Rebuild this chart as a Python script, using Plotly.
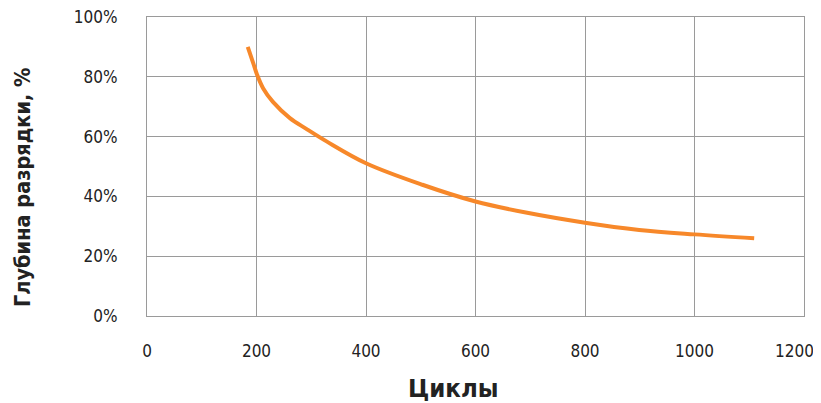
import plotly.graph_objects as go

cycles = [184, 194, 201, 212, 230, 261, 291, 328, 400, 503, 600, 692, 800, 899, 1000, 1109]
depth = [90.0, 84.6, 80.7, 76.2, 71.6, 66.2, 62.6, 58.4, 51.1, 43.9, 38.3, 34.6, 31.2, 28.8, 27.3, 26.0]

x_ticks = [0, 200, 400, 600, 800, 1000, 1200]
x_labels = ["0", "200", "400", "600", "800", "1000", ""]
last_x_label = "1200"
y_ticks = [0, 20, 40, 60, 80, 100]
y_labels = [f"{v}%" for v in y_ticks]

tick_font = dict(family="DejaVu Sans Condensed, Liberation Sans, sans-serif", size=17, color="#222")
title_family = "DejaVu Sans Condensed, DejaVu Sans, Liberation Sans, sans-serif"
grid = "#9a9a9a"

# plot area in page pixels (page has an 8px body offset)
PL, PR, PT, PB = 147, 804, 17, 316
PW, PH = PR - PL, PB - PT

fig = go.Figure()
fig.add_trace(go.Scatter(x=cycles, y=depth, mode="lines",
                         line=dict(color="#F7882A", width=4, shape="spline", smoothing=1.0),
                         hoverinfo="skip", showlegend=False))

fig.update_layout(
    width=813, height=395,
    margin=dict(l=PL - 8, r=813 - (PR - 8), t=PT - 8, b=395 - (PB - 8), autoexpand=False),
    paper_bgcolor="white", plot_bgcolor="white",
    xaxis=dict(range=[0, 1200], tickvals=x_ticks, ticktext=x_labels, showgrid=True, gridcolor=grid,
               gridwidth=1, showline=True, linecolor=grid, linewidth=1, mirror=True, zeroline=False,
               automargin=False, ticks="", tickfont=tick_font, ticklabelstandoff=20,
               ticklabeloverflow="allow"),
    yaxis=dict(range=[0, 100], tickvals=y_ticks, ticktext=y_labels, showgrid=True, gridcolor=grid,
               gridwidth=1, showline=True, linecolor=grid, linewidth=1, mirror=True, zeroline=False,
               automargin=False, ticks="", tickfont=tick_font, ticklabelstandoff=25,
               ticklabeloverflow="allow"),
    annotations=[
        dict(text=last_x_label, xref="paper", yref="paper", x=(816 - PL) / PW, y=-(351 - PB) / PH,
             xanchor="right", yanchor="middle", showarrow=False, font=tick_font),
        dict(text="<b>Циклы</b>", xref="paper", yref="paper", x=(453 - PL) / PW, y=-(388 - PB) / PH,
             xanchor="center", yanchor="middle", showarrow=False,
             font=dict(family=title_family, size=25.5, color="#222")),
        dict(text="<b>Глубина разрядки, %</b>", xref="paper", yref="paper", x=-(PL - 22) / PW,
             y=(PB - 188) / PH, xanchor="center", yanchor="middle", textangle=-90, showarrow=False,
             font=dict(family=title_family, size=21.5, color="#222")),
    ],
)

fig.write_html("out.html")
